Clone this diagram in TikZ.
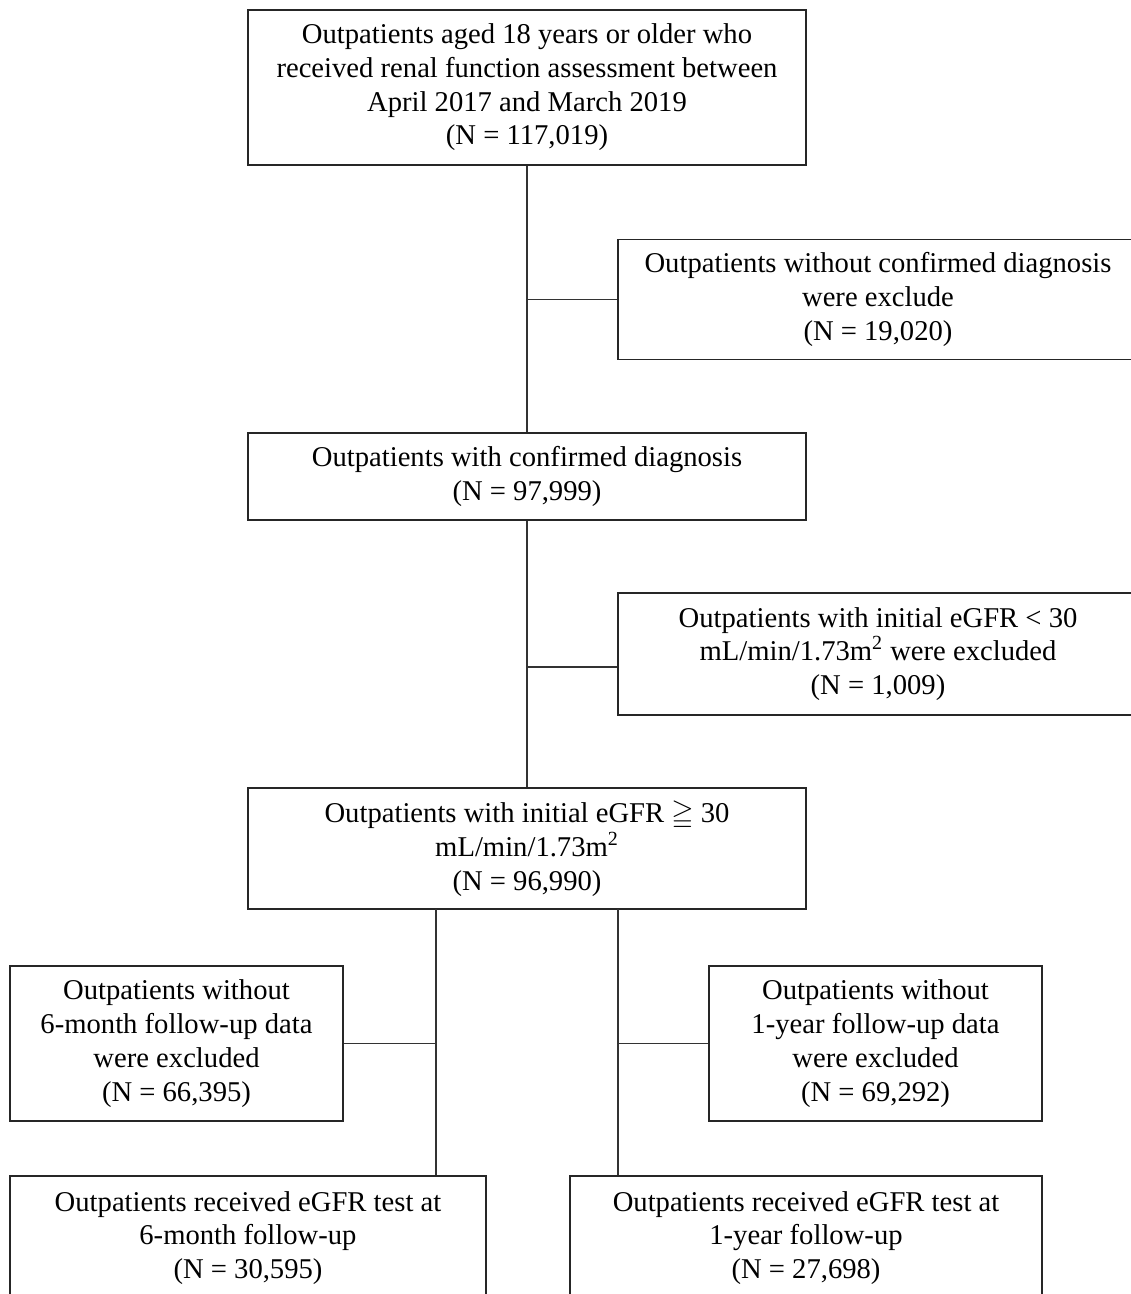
\documentclass[tikz,border=0pt]{standalone}
\usepackage{amsmath, amssymb}
\usepackage{fontspec}
\setmainfont{Liberation Serif}
\usepackage{tikz}
\usetikzlibrary{positioning, calc}

\begin{document}
\begin{tikzpicture}[
  x=0.02cm, y=-0.02cm,
  link/.style={draw=black!80, line width=0.8pt},
  stage/.style={draw=black!85, line width=0.9pt, fill=white, align=center,
                inner sep=0pt, font=\fontsize{16.3}{19.2}\selectfont},
  stagewide/.style={stage, minimum width=11.16cm},
  dropbox/.style={stage, minimum width=10.4cm},
  sidebox/.style={stage, minimum width=6.66cm, minimum height=3.1cm},
]
  % Page frame
  \useasboundingbox (0,0) rectangle (1130,1294);

  % Main cohort column
  \node[stagewide, minimum height=3.1cm] (cohort) at (527,87.5)
    {Outpatients aged 18 years or older who\\
     received renal function assessment between\\
     April 2017 and March 2019\\
     (N = 117,019)};
  \node[stagewide, minimum height=1.74cm] (diag) at (527,476.5)
    {Outpatients with confirmed diagnosis\\
     (N = 97,999)};
  \node[stagewide, minimum height=2.42cm] (highgfr) at (527,848.5)
    {Outpatients with initial eGFR $\geqq$ 30\\
     mL/min/1.73m\textsuperscript{2}\\
     (N = 96,990)};

  % Exclusions on the right of the column
  \node[dropbox, minimum height=2.4cm] (nodiag) at (878,299.5)
    {Outpatients without confirmed diagnosis\\
     were exclude\\
     (N = 19,020)};
  \node[dropbox, minimum height=2.44cm] (lowgfr) at (878,654)
    {Outpatients with initial eGFR < 30\\
     mL/min/1.73m\textsuperscript{2} were excluded\\
     (N = 1,009)};

  % Follow-up exclusions
  \node[sidebox] (no6m) at (176.5,1043.5)
    {Outpatients without\\
     6-month follow-up data\\
     were excluded\\
     (N = 66,395)};
  \node[sidebox] (no1y) at (875.5,1043.5)
    {Outpatients without\\
     1-year follow-up data\\
     were excluded\\
     (N = 69,292)};

  % Final samples
  \node[stage, minimum width=9.52cm, minimum height=2.48cm] (fu6m) at (248,1238)
    {Outpatients received eGFR test at\\
     6-month follow-up\\
     (N = 30,595)};
  \node[stage, minimum width=9.44cm, minimum height=2.48cm] (fu1y) at (806,1238)
    {Outpatients received eGFR test at\\
     1-year follow-up\\
     (N = 27,698)};

  % Taps under the eGFR >= 30 box
  \coordinate (tapL) at (436,909);
  \coordinate (tapR) at (618,909);

  % Column links
  \draw[link] (cohort.south) -- (diag.north);
  \draw[link] (diag.south) -- (highgfr.north);
  \draw[link] (nodiag.west) -- (nodiag.west -| cohort.south);
  \draw[link] ([yshift=-0.26cm]lowgfr.west) -- ([yshift=-0.26cm]lowgfr.west -| diag.south);

  % Split into the two follow-up arms
  \draw[link] (tapL) -- (tapL |- fu6m.north);
  \draw[link] (tapR) -- (tapR |- fu1y.north);
  \draw[link] (no6m.east) -- (no6m.east -| tapL);
  \draw[link] (no1y.west) -- (no1y.west -| tapR);
\end{tikzpicture}
\end{document}
